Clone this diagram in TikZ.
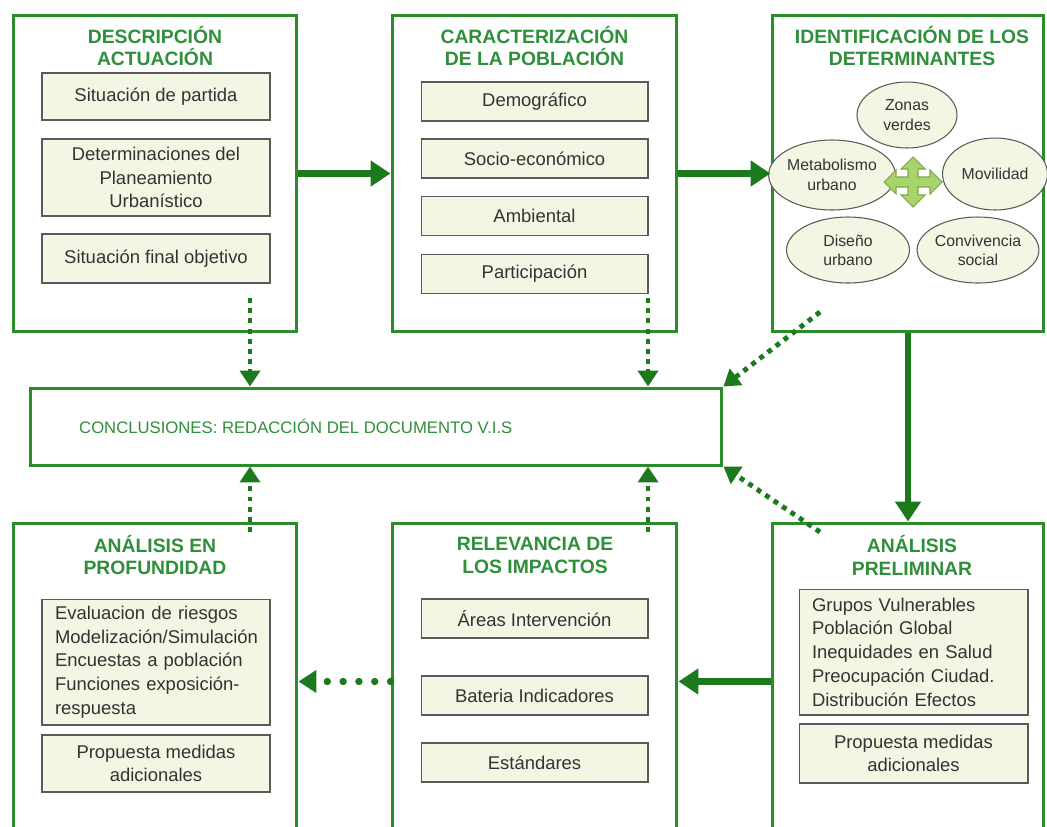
\documentclass[tikz,border=0pt]{standalone}
\usepackage{fontspec}
\setmainfont{Liberation Sans}
\definecolor{FrameGreen}{HTML}{2A8C2A}
\definecolor{ArrowGreen}{HTML}{1C7A1C}
\definecolor{TitleGreen}{HTML}{2F8F3A}
\definecolor{PaleCream}{HTML}{F3F6E3}
\definecolor{ItemGray}{HTML}{5A5A5A}
\definecolor{CrossFill}{HTML}{A9D46C}
\definecolor{CrossLine}{HTML}{7DAA4E}
\usepackage{tikz}
\usetikzlibrary{
  arrows.meta,
  positioning,
  shapes.geometric,
  calc
}

\begin{document}
\begin{tikzpicture}[
  x=0.02cm, y=-0.02cm,
  stage/.style={
    draw=FrameGreen, line width=1.7pt, fill=white,
    minimum height=6.34cm, inner sep=0pt
  },
  heading/.style={
    align=center, text=TitleGreen,
    font=\fontsize{11}{13}\selectfont\bfseries
  },
  item/.style={
    draw=ItemGray, line width=0.6pt, fill=PaleCream,
    minimum width=4.56cm, inner sep=2pt, align=center,
    text=black!80, font=\fontsize{10.5}{13.5}\selectfont
  },
  itemlist/.style={
    item, text width=4.04cm, inner xsep=0.26cm, align=left
  },
  factor/.style={
    ellipse, draw=ItemGray, line width=0.6pt, fill=PaleCream,
    inner sep=0pt, align=center, text=black!80,
    font=\fontsize{9}{11}\selectfont
  },
  flow/.style={
    draw=ArrowGreen, line width=3.6pt,
    -{Triangle[length=0.4cm, width=0.5cm]}
  },
  feed/.style={
    draw=ArrowGreen, line width=2.8pt, dash pattern=on 2.8pt off 3pt,
    -{Triangle[length=0.32cm, width=0.4cm]}
  },
  dots/.style={
    draw=ArrowGreen, line width=4.2pt, line cap=round,
    dash pattern=on 0pt off 9pt,
    -{Triangle[length=0.36cm, width=0.44cm]}
  }
]
  % Page frame (1047 x 826 px)
  \useasboundingbox (0,0) rectangle (1047,826);

  % Upper row of stages
  \node[stage, minimum width=5.68cm] (desc) at (155,173.5) {};
  \node[stage, minimum width=5.70cm] (carac) at (534.5,173.5) {};
  \node[stage, minimum width=5.44cm] (ident) at (908,173.5) {};

  % Lower row of stages (cut by the page bottom)
  \node[stage, minimum width=5.68cm] (prof) at (155,681.5) {};
  \node[stage, minimum width=5.70cm] (relev) at (534.5,681.5) {};
  \node[stage, minimum width=5.44cm] (prelim) at (908,681.5) {};

  % Conclusions bar
  \node[stage, minimum width=13.84cm, minimum height=1.54cm]
    (concl) at (376,426.5) {};
  \node[anchor=west, text=TitleGreen, font=\fontsize{9.5}{11}\selectfont]
    (conclT) at (73,426) {CONCLUSIONES: REDACCIÓN DEL DOCUMENTO V.I.S};

  % Headings
  \node[heading] (descT) at (155,46) {DESCRIPCIÓN\\ACTUACIÓN};
  \node[heading] (caracT) at (534.5,46) {CARACTERIZACIÓN\\DE LA POBLACIÓN};
  \node[heading] (identT) at (912,46) {IDENTIFICACIÓN DE LOS\\DETERMINANTES};
  \node[heading] (profT) at (155,555) {ANÁLISIS EN\\PROFUNDIDAD};
  \node[heading] (relevT) at (535,555) {RELEVANCIA DE\\LOS IMPACTOS};
  \node[heading] (prelimT) at (912,555) {ANÁLISIS\\PRELIMINAR};

  % Descripcion items
  \node[item, minimum height=0.94cm] (partida) at (156,96.5)
    {Situación de partida};
  \node[item, minimum height=1.54cm] (planea) at (156,177.5)
    {Determinaciones del\\Planeamiento\\Urbanístico};
  \node[item, minimum height=0.98cm] (objetivo) at (156,258.5)
    {Situación final objetivo};

  % Caracterizacion items
  \node[item, minimum width=4.54cm, minimum height=0.78cm] (demo)
    at (534.5,101.5) {Demográfico};
  \node[item, minimum width=4.54cm, minimum height=0.78cm] (socio)
    at (534.5,158.5) {Socio-económico};
  \node[item, minimum width=4.54cm, minimum height=0.78cm] (amb)
    at (534.5,216) {Ambiental};
  \node[item, minimum width=4.54cm, minimum height=0.78cm] (partic)
    at (534.5,274) {Participación};

  % Determinantes
  \node[factor, minimum width=2.0cm, minimum height=1.32cm] (zonas)
    at (907,115) {Zonas\\verdes};
  \node[factor, minimum width=2.1cm, minimum height=1.4cm] (metab)
    at (832,175) {Metabolismo\\urbano};
  \node[factor, minimum width=2.1cm, minimum height=1.44cm] (movil)
    at (995,174) {Movilidad};
  \node[factor, minimum width=2.46cm, minimum height=1.32cm] (diseno)
    at (848,250) {Diseño\\urbano};
  \node[factor, minimum width=2.34cm, minimum height=1.32cm] (conviv)
    at (978,250) {Convivencia\\social};

  % Four-way arrow
  \draw[fill=CrossFill, draw=CrossLine, line width=0.6pt, shift={(913,182)}]
    (29,0) -- (17,-12) -- (17,-5) -- (5,-5) -- (5,-13) -- (12,-13)
    -- (0,-25) -- (-12,-13) -- (-5,-13) -- (-5,-5) -- (-17,-5)
    -- (-17,-12) -- (-29,0) -- (-17,12) -- (-17,5) -- (-5,5)
    -- (-5,13) -- (-12,13) -- (0,25) -- (12,13) -- (5,13) -- (5,5)
    -- (17,5) -- (17,12) -- cycle;

  % Profundidad items
  \node[itemlist, minimum height=2.52cm] (metodos) at (156,662)
    {Evaluacion de riesgos\\Modelización/Simulación\\Encuestas a población\\Funciones exposición-\\respuesta};
  \node[item, minimum height=1.14cm] (medidasA) at (156,763.5)
    {Propuesta medidas\\adicionales};

  % Relevancia items
  \node[item, minimum width=4.54cm, minimum height=0.78cm] (areas)
    at (534.5,618.5) {Áreas Intervención};
  \node[item, minimum width=4.54cm, minimum height=0.78cm] (bateria)
    at (534.5,695.5) {Bateria Indicadores};
  \node[item, minimum width=4.54cm, minimum height=0.78cm] (estand)
    at (534.5,762.5) {Estándares};

  % Preliminar items
  \node[itemlist, minimum width=4.58cm, text width=4.06cm,
    minimum height=2.52cm] (grupos) at (913.5,652)
    {Grupos Vulnerables\\Población Global\\Inequidades en Salud\\Preocupación Ciudad.\\Distribución Efectos};
  \node[item, minimum width=4.58cm, minimum height=1.18cm] (medidasB)
    at (913.5,753.5) {Propuesta medidas\\adicionales};

  % Main flow
  \draw[flow] (desc) -- (carac);
  \draw[flow] (carac) -- (ident);
  \draw[flow] (ident) -- (prelim);
  \draw[flow] (prelim) -- (relev);
  \draw[dots] (relev) -- (prof);

  % Feeds into the conclusions
  \coordinate (descOut) at (250,298);
  \coordinate (caracOut) at (648,298);
  \coordinate (identOut) at (820,312);
  \coordinate (prelimOut) at (820,532);
  \coordinate (profOut) at (250,532);
  \coordinate (relevOut) at (648,532);
  \draw[feed] (descOut) -- (descOut |- concl.north);
  \draw[feed] (caracOut) -- (caracOut |- concl.north);
  \draw[feed] (identOut) -- (concl.north east);
  \draw[feed] (prelimOut) -- (concl.south east);
  \draw[feed] (profOut) -- (profOut |- concl.south);
  \draw[feed] (relevOut) -- (relevOut |- concl.south);
\end{tikzpicture}
\end{document}
